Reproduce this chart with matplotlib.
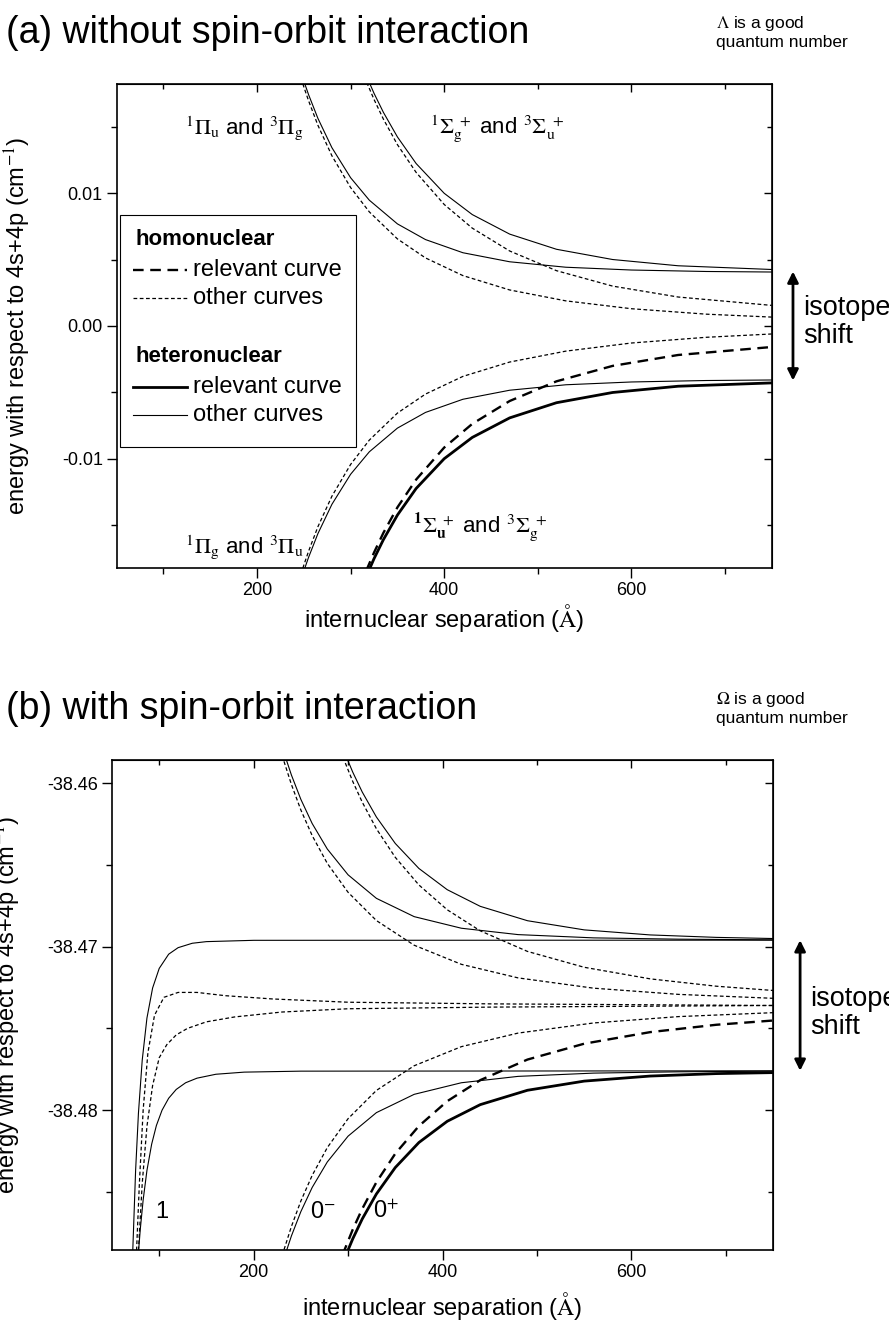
import matplotlib
matplotlib.use("Agg")
import matplotlib.pyplot as plt
from matplotlib.patches import Rectangle
from matplotlib.ticker import MultipleLocator, FormatStrFormatter, NullFormatter

plt.rcParams["font.family"] = ["Liberation Sans", "DejaVu Sans"]
plt.rcParams["mathtext.fontset"] = "stix"
plt.rcParams["axes.unicode_minus"] = False

# ---- panel (a): without spin-orbit, energy in cm^-1 vs R in Angstrom ----
r_pi = [245, 250, 255, 265, 280, 300, 320, 350, 380, 420, 470, 530, 600, 680, 750]
pi_hom_up = [0.01911, 0.01798, 0.01695, 0.01510, 0.01280, 0.01041, 0.00858, 0.00655,
             0.00512, 0.00379, 0.00271, 0.00189, 0.00130, 0.00089, 0.00067]
pi_hom_dn = [-0.01911, -0.01798, -0.01695, -0.01510, -0.01280, -0.01041, -0.00858, -0.00655,
             -0.00512, -0.00379, -0.00271, -0.00189, -0.00128, -0.00085, -0.00060]
pi_het_up = [0.01952, 0.01842, 0.01741, 0.01562, 0.01341, 0.01115, 0.00946, 0.00768,
             0.00650, 0.00551, 0.00483, 0.00442, 0.00421, 0.00410, 0.00406]
pi_het_dn = [-0.01952, -0.01842, -0.01741, -0.01562, -0.01341, -0.01115, -0.00946, -0.00768,
             -0.00650, -0.00551, -0.00483, -0.00442, -0.00421, -0.00410, -0.00406]

r_sig = [310, 318, 325, 335, 350, 370, 400, 430, 470, 520, 580, 650, 750]
sig_hom_up = [0.01964, 0.01819, 0.01704, 0.01556, 0.01364, 0.01155, 0.00914, 0.00736,
              0.00564, 0.00416, 0.00300, 0.00218, 0.00155]
sig_hom_dn = [-0.01964, -0.01819, -0.01704, -0.01556, -0.01364, -0.01155, -0.00914, -0.00736,
              -0.00564, -0.00416, -0.00300, -0.00218, -0.00158]
sig_het_up = [0.02004, 0.01863, 0.01750, 0.01607, 0.01422, 0.01222, 0.00998, 0.00838,
              0.00691, 0.00577, 0.00500, 0.00453, 0.00425]
sig_het_dn = [-0.02004, -0.01863, -0.01750, -0.01607, -0.01422, -0.01222, -0.00998, -0.00838,
              -0.00691, -0.00577, -0.00500, -0.00453, -0.00428]

# ---- panel (b): with spin-orbit ----
# Omega = 1 curves
r_one_hu = [70, 72, 75, 78, 82, 87, 93, 100, 110, 120, 135, 150, 200, 750]
one_het_up = [-38.49294, -38.48860, -38.48370, -38.48019, -38.47695, -38.47437, -38.47253,
              -38.47133, -38.47046, -38.47006, -38.46979, -38.46969, -38.46961, -38.46960]
r_one_hl = [76, 78, 80, 83, 87, 92, 97, 103, 110, 118, 128, 140, 160, 190, 250, 750]
one_het_dn = [-38.49043, -38.48872, -38.48727, -38.48550, -38.48370, -38.48209, -38.48095,
              -38.48001, -38.47928, -38.47874, -38.47833, -38.47805, -38.47781, -38.47768,
              -38.47762, -38.47760]
r_one_mu = [74, 76, 79, 83, 88, 95, 105, 120, 140, 170, 220, 300, 450, 750]
one_hom_up = [-38.4905, -38.4886, -38.4845, -38.4800, -38.4765, -38.4742, -38.4731, -38.4728,
              -38.4728, -38.4730, -38.4732, -38.4734, -38.4735, -38.4736]
r_one_ml = [76, 78, 82, 87, 93, 100, 108, 118, 130, 150, 180, 230, 300, 450, 750]
one_hom_dn = [-38.4905, -38.4886, -38.4845, -38.4810, -38.4785, -38.4768, -38.4760, -38.4754,
              -38.4750, -38.4746, -38.4743, -38.4740, -38.4738, -38.4737, -38.4736]

# 0- curves
r_zm = [225, 232, 240, 250, 262, 278, 300, 330, 370, 420, 480, 560, 650, 750]
zm_hom_up = [-38.45718, -38.45863, -38.46007, -38.46163, -38.46320, -38.46490, -38.46667,
             -38.46840, -38.46991, -38.47108, -38.47191, -38.47254, -38.47292, -38.47316]
zm_hom_dn = [-38.49002, -38.48858, -38.48713, -38.48557, -38.48400, -38.48230, -38.48053,
             -38.47880, -38.47729, -38.47612, -38.47529, -38.47467, -38.47428, -38.47404]
zm_het_up = [-38.45670, -38.45810, -38.45949, -38.46098, -38.46246, -38.46402, -38.46560,
             -38.46704, -38.46816, -38.46887, -38.46926, -38.46946, -38.46954, -38.46958]
zm_het_dn = [-38.49050, -38.48910, -38.48771, -38.48622, -38.48474, -38.48318, -38.48160,
             -38.48016, -38.47904, -38.47833, -38.47794, -38.47774, -38.47766, -38.47762]

# 0+ curves
r_zp = [288, 296, 305, 315, 330, 350, 375, 405, 440, 490, 550, 620, 690, 750]
zp_hom_up = [-38.45732, -38.45860, -38.45989, -38.46115, -38.46278, -38.46453, -38.46622,
             -38.46774, -38.46903, -38.47029, -38.47126, -38.47197, -38.47242, -38.47268]
zp_hom_dn = [-38.48988, -38.48860, -38.48731, -38.48605, -38.48442, -38.48267, -38.48098,
             -38.47946, -38.47817, -38.47691, -38.47594, -38.47523, -38.47478, -38.47452]
zp_het_up = [-38.45683, -38.45808, -38.45932, -38.46053, -38.46206, -38.46368, -38.46521,
             -38.46651, -38.46753, -38.46841, -38.46897, -38.46928, -38.46943, -38.46950]
zp_het_dn = [-38.49037, -38.48912, -38.48788, -38.48667, -38.48514, -38.48352, -38.48199,
             -38.48069, -38.47967, -38.47879, -38.47823, -38.47792, -38.47777, -38.47771]

# isotope shift limits (upper / lower asymptote) used for the arrows
shift_a = [0.0041, -0.0041]
shift_b = [-38.4696, -38.4776]

thin = dict(color="black", lw=0.8)
thick = dict(color="black", lw=2.0)
dash_thin = dict(color="black", lw=0.9, linestyle=(0, (3, 2)))
dash_thick = dict(color="black", lw=1.7, linestyle=(0, (4.5, 2.8)))

fig = plt.figure(figsize=(8.89, 13.2), dpi=100)
ax_a = fig.add_axes([116.7 / 889, 1 - 568 / 1320, 655 / 889, 484 / 1320])
ax_b = fig.add_axes([112 / 889, 1 - 1250 / 1320, 661 / 889, 490 / 1320])


def style_axes(ax, ylim, ystep):
    ax.set_xlim(50, 750)
    ax.set_ylim(*ylim)
    ax.xaxis.set_major_locator(MultipleLocator(200))
    ax.xaxis.set_minor_locator(MultipleLocator(100))
    ax.yaxis.set_major_locator(MultipleLocator(ystep))
    ax.yaxis.set_minor_locator(MultipleLocator(ystep / 2))
    ax.yaxis.set_major_formatter(FormatStrFormatter("%.2f"))
    ax.tick_params(which="both", direction="out", width=1.0, labelsize=13, pad=3)
    ax.tick_params(which="major", length=7)
    ax.tick_params(which="minor", length=4)
    for s in ax.spines.values():
        s.set_linewidth(1.2)
    top = ax.secondary_xaxis("top")
    top.xaxis.set_major_locator(MultipleLocator(200))
    top.xaxis.set_minor_locator(MultipleLocator(100))
    top.xaxis.set_major_formatter(NullFormatter())
    top.tick_params(which="both", direction="in", width=1.0)
    top.tick_params(which="major", length=6)
    top.tick_params(which="minor", length=3.5)
    right = ax.secondary_yaxis("right")
    right.yaxis.set_major_locator(MultipleLocator(ystep))
    right.yaxis.set_minor_locator(MultipleLocator(ystep / 2))
    right.yaxis.set_major_formatter(NullFormatter())
    right.tick_params(which="both", direction="in", width=1.0)
    right.tick_params(which="major", length=6)
    right.tick_params(which="minor", length=3.5)
    ax.set_xlabel(r"internuclear separation ($\mathrm{Å}$)", fontsize=17)
    ax.set_ylabel(r"energy with respect to 4s+4p (cm$^{-1}$)", fontsize=17)


# ---------------- panel (a) ----------------
ax = ax_a
ax.plot(r_pi, pi_het_up, **thin)
ax.plot(r_pi, pi_hom_up, **dash_thin)
ax.plot(r_sig, sig_het_up, **thin)
ax.plot(r_sig, sig_hom_up, **dash_thin)
ax.plot(r_pi, pi_het_dn, **thin)
ax.plot(r_pi, pi_hom_dn, **dash_thin)
ax.plot(r_sig, sig_het_dn, **thick)
ax.plot(r_sig, sig_hom_dn, **dash_thick)
style_axes(ax, (-0.0182, 0.0182), 0.01)
ax.xaxis.set_label_coords(0.5, -0.07)
ax.yaxis.set_label_coords(-0.128, 0.5)

ax.text(0.104, 0.909, r"$^{1}\Pi_{\mathrm{u}}$ and $^{3}\Pi_{\mathrm{g}}$", transform=ax.transAxes,
        fontsize=16, va="center")
ax.text(0.478, 0.909, r"$^{1}\Sigma_{\mathrm{g}}^{\ +}$ and $^{3}\Sigma_{\mathrm{u}}^{\ +}$",
        transform=ax.transAxes, fontsize=16, va="center")
ax.text(0.104, 0.043, r"$^{1}\Pi_{\mathrm{g}}$ and $^{3}\Pi_{\mathrm{u}}$", transform=ax.transAxes,
        fontsize=16, va="center")
ax.text(0.452, 0.085, r"$\mathbf{^{1}}\Sigma_{\mathbf{u}}^{\ +}$ and $^{3}\Sigma_{\mathrm{g}}^{\ +}$",
        transform=ax.transAxes, fontsize=16, va="center")

# legend drawn by hand
ax.add_patch(Rectangle((0.005, 0.250), 0.360, 0.480, transform=ax.transAxes,
                       facecolor="white", edgecolor="black", lw=0.8, zorder=5))
ax.text(0.028, 0.678, "homonuclear", transform=ax.transAxes, fontsize=16,
        fontweight="bold", va="center", zorder=6)
ax.plot([0.025, 0.107], [0.616, 0.616], transform=ax.transAxes, zorder=6, **dash_thick)
ax.text(0.117, 0.616, "relevant curve", transform=ax.transAxes, fontsize=17, va="center", zorder=6)
ax.plot([0.025, 0.107], [0.558, 0.558], transform=ax.transAxes, zorder=6, **dash_thin)
ax.text(0.117, 0.558, "other curves", transform=ax.transAxes, fontsize=17, va="center", zorder=6)
ax.text(0.028, 0.436, "heteronuclear", transform=ax.transAxes, fontsize=16,
        fontweight="bold", va="center", zorder=6)
ax.plot([0.025, 0.107], [0.374, 0.374], transform=ax.transAxes, zorder=6, **thick)
ax.text(0.117, 0.374, "relevant curve", transform=ax.transAxes, fontsize=17, va="center", zorder=6)
ax.plot([0.025, 0.107], [0.316, 0.316], transform=ax.transAxes, zorder=6, **thin)
ax.text(0.117, 0.316, "other curves", transform=ax.transAxes, fontsize=17, va="center", zorder=6)

ax.annotate("", xy=(1.0325, shift_a[1]), xytext=(1.0325, shift_a[0]),
            xycoords=("axes fraction", "data"), textcoords=("axes fraction", "data"),
            arrowprops=dict(arrowstyle="<|-|>", color="black", lw=2.0,
                            mutation_scale=16, shrinkA=0, shrinkB=0),
            annotation_clip=False)

# ---------------- panel (b) ----------------
ax = ax_b
ax.plot(r_one_hu, one_het_up, **thin)
ax.plot(r_one_hl, one_het_dn, **thin)
ax.plot(r_one_mu, one_hom_up, **dash_thin)
ax.plot(r_one_ml, one_hom_dn, **dash_thin)
ax.plot(r_zm, zm_het_up, **thin)
ax.plot(r_zm, zm_hom_up, **dash_thin)
ax.plot(r_zm, zm_het_dn, **thin)
ax.plot(r_zm, zm_hom_dn, **dash_thin)
ax.plot(r_zp, zp_het_up, **thin)
ax.plot(r_zp, zp_hom_up, **dash_thin)
ax.plot(r_zp, zp_het_dn, **thick)
ax.plot(r_zp, zp_hom_dn, **dash_thick)
style_axes(ax, (-38.48857, -38.45857), 0.01)
ax.xaxis.set_label_coords(0.5, -0.082)
ax.yaxis.set_label_coords(-0.134, 0.5)

ax.text(0.065, 0.078, "1", transform=ax.transAxes, fontsize=17, va="center")
ax.text(0.300, 0.078, r"0$^{-}$", transform=ax.transAxes, fontsize=17, va="center")
ax.text(0.395, 0.078, r"0$^{+}$", transform=ax.transAxes, fontsize=17, va="center")

ax.annotate("", xy=(1.041, shift_b[1]), xytext=(1.041, shift_b[0]),
            xycoords=("axes fraction", "data"), textcoords=("axes fraction", "data"),
            arrowprops=dict(arrowstyle="<|-|>", color="black", lw=2.0,
                            mutation_scale=16, shrinkA=0, shrinkB=0),
            annotation_clip=False)

# ---------------- figure texts ----------------
fig.text(6 / 889, 1 - 33 / 1320, "(a) without spin-orbit interaction", fontsize=27, va="center")
fig.text(6 / 889, 1 - 709 / 1320, "(b) with spin-orbit interaction", fontsize=27, va="center")
fig.text(716 / 889, 1 - 32 / 1320, "$\\Lambda$ is a good\nquantum number", fontsize=12.5,
         va="center", linespacing=1.15)
fig.text(716 / 889, 1 - 708 / 1320, "$\\Omega$ is a good\nquantum number", fontsize=12.5,
         va="center", linespacing=1.15)
fig.text(803 / 889, 1 - 322 / 1320, "isotope\nshift", fontsize=19.5, va="center", linespacing=1.1)
fig.text(810 / 889, 1 - 1013 / 1320, "isotope\nshift", fontsize=19.5, va="center", linespacing=1.1)

fig.savefig("out.png", dpi=100)
